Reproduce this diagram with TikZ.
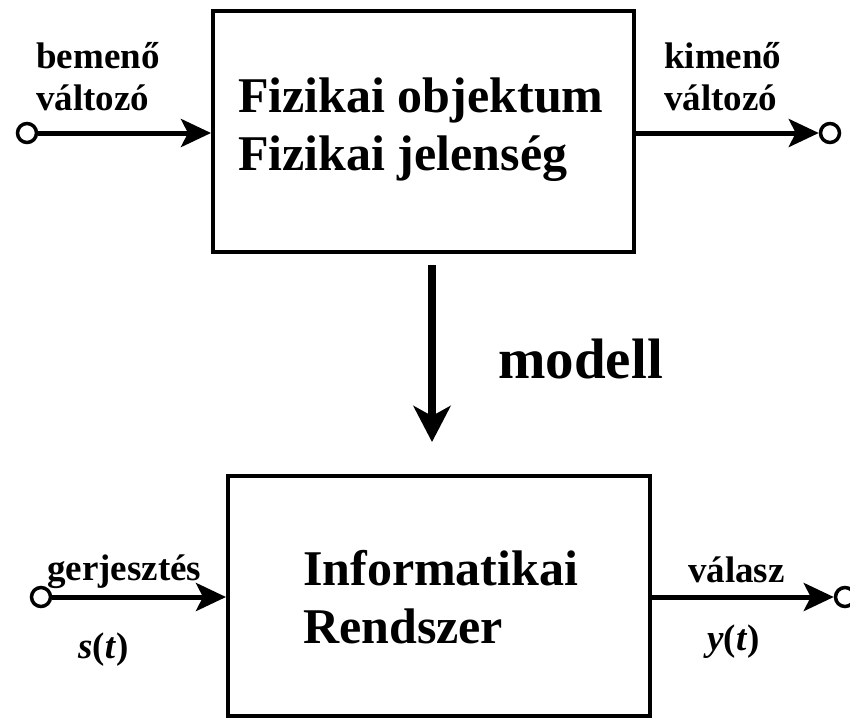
\documentclass[tikz,border=0pt]{standalone}
\usepackage{fontspec}
\setmainfont{Liberation Serif}
\usetikzlibrary{arrows.meta}
\begin{document}
\begin{tikzpicture}[x=1pt,y=-1pt,
  blockbox/.style={draw, line width=4pt, minimum width=421pt, minimum height=241pt, inner sep=0pt},
  terminal/.style={draw, circle, line width=3.5pt, minimum size=19pt, inner sep=0pt, fill=white},
  signal/.style={line width=5pt, -{Stealth[length=30pt,width=28pt,inset=7pt]}},
  lbl/.style={font=\fontsize{37}{42}\selectfont\bfseries, inner sep=0pt, align=left},
  boxtext/.style={font=\fontsize{50}{58}\selectfont\bfseries, inner sep=0pt, align=left},
]
\useasboundingbox (0,0) rectangle (850,718);

% physical object block (multi-line texts are placed by their last baseline)
\node[blockbox] (phys) at (423.5,131) {};
\node[boxtext, anchor=base west] (physname) at (238,170) {Fizikai objektum\\Fizikai jelenség};
\node[terminal] (inA) at (27,133) {};
\node[terminal] (outA) at (830,133) {};
\draw[signal] (inA.east) -- (inA.east -| phys.west);
\draw[signal] (phys.east |- outA) -- (outA.west);
\node[lbl, anchor=base west] (inAname) at (36,110) {bemenő\\változó};
\node[lbl, anchor=base west] (outAname) at (664,110) {kimenő\\változó};

% modelling step
\coordinate (mtop) at (432,265);
\coordinate (mbot) at (432,442);
\draw[line width=8.5pt, -{Stealth[length=36pt,width=37pt,inset=10pt]}] (mtop) -- (mbot);
\node[font=\fontsize{57}{60}\selectfont\bfseries, inner sep=0pt, anchor=base west] (modelname) at (498,378) {modell};

% information system block
\node[blockbox, minimum width=422pt, minimum height=240pt] (info) at (439,596) {};
\node[boxtext, anchor=base west] (infoname) at (303,643) {Informatikai\\Rendszer};
\node[terminal] (inB) at (41,597) {};
\node[terminal] (outB) at (845,597) {};
\draw[signal] (inB.east) -- (inB.east -| info.west);
\draw[signal] (info.east |- outB) -- (outB.west);
\node[lbl, anchor=base west] (inBname) at (47,580) {gerjesztés};
\node[lbl, anchor=base west] (inBsym) at (78,658) {\textit{s}(\textit{t})};
\node[lbl, anchor=base west] (outBname) at (688,582) {válasz};
\node[lbl, anchor=base west] (outBsym) at (707,650) {\textit{y}(\textit{t})};
\end{tikzpicture}
\end{document}
